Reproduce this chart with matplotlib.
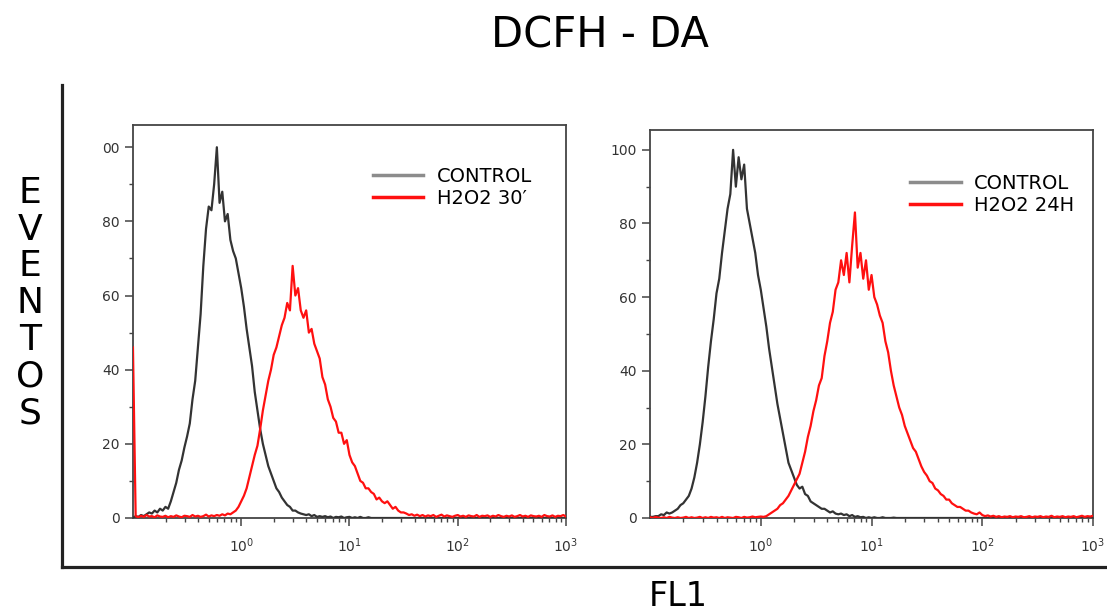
import numpy as np
import matplotlib
matplotlib.use("Agg")
import matplotlib.pyplot as plt
from matplotlib.lines import Line2D
from matplotlib.ticker import NullFormatter, MultipleLocator

# FL1 channels, log10 spaced (-1 .. 3)
log_fl1 = np.round(np.arange(-1, 3.001, 0.025), 3)
fl1 = 10 ** log_fl1

# panel 1: CONTROL vs H2O2 30'
control_30 = [
    0.0, 0.5, 0.3, 0.8, 0.5, 1.0, 1.5, 1.2, 2.0, 1.5,
    2.5, 2.0, 3.0, 2.5, 4.5, 7.0, 9.5, 13, 15.5, 19,
    22, 25.5, 32, 37, 46, 55, 68, 78, 84, 83,
    90, 100, 85, 88, 80, 82, 75, 72, 70, 66,
    62, 57, 51, 46, 41, 34, 29, 24, 20, 17,
    14, 12, 10, 8.0, 7.0, 5.5, 4.5, 3.5, 3.0, 2.0,
    2.0, 1.5, 1.2, 1.0, 0.8, 1.0, 0.5, 0.8, 0.3, 0.5,
    0.3, 0.5, 0.2, 0.4, 0.0, 0.3, 0.2, 0.4, 0.0, 0.2,
    0.3, 0.0, 0.2, 0.0, 0.3, 0.0, 0.0, 0.2, 0.0, 0.0,
    0, 0, 0, 0, 0, 0, 0, 0, 0, 0,
    0, 0, 0, 0, 0, 0, 0, 0, 0, 0,
    0, 0, 0, 0, 0, 0, 0, 0, 0, 0,
    0, 0, 0, 0, 0, 0, 0, 0, 0, 0,
    0, 0, 0, 0, 0, 0, 0, 0, 0, 0,
    0, 0, 0, 0, 0, 0, 0, 0, 0, 0,
    0, 0, 0, 0, 0, 0, 0, 0, 0, 0,
    0,
]
h2o2_30 = [
    46, 0.5, 0.2, 0.6, 0.3, 0.8, 0.4, 0.5, 0.2, 0.7,
    0.4, 0.3, 0.6, 0.2, 0.5, 0.3, 0.7, 0.4, 0.2, 0.6,
    0.5, 0.3, 0.8, 0.4, 0.6, 0.3, 0.5, 0.9, 0.4, 0.7,
    0.5, 0.8, 0.6, 1.0, 0.7, 1.2, 1.0, 1.5, 2.0, 3.0,
    4.5, 6.0, 8.0, 11, 14, 17, 19.5, 24, 29, 33,
    37, 40, 44, 46, 49, 52, 54, 58, 56, 68,
    60, 62, 56, 54, 56, 50, 51, 47, 45, 43,
    38, 36, 32, 30, 27, 26, 23, 23, 20, 21,
    17, 15, 14, 12, 10, 9.5, 8.0, 8.0, 7.0, 6.5,
    5.0, 5.5, 4.5, 4.0, 4.5, 3.5, 2.5, 3.0, 2.0, 1.5,
    1.5, 1.2, 0.8, 1.0, 0.6, 0.9, 0.5, 0.8, 0.4, 0.7,
    0.5, 0.8, 0.3, 0.6, 0.9, 0.4, 0.7, 0.5, 0.3, 0.6,
    0.8, 0.4, 0.6, 0.3, 0.7, 0.5, 0.4, 0.8, 0.3, 0.6,
    0.5, 0.7, 0.3, 0.6, 0.4, 0.8, 0.5, 0.3, 0.6, 0.4,
    0.7, 0.3, 0.5, 0.8, 0.4, 0.6, 0.3, 0.7, 0.5, 0.4,
    0.6, 0.3, 0.8, 0.5, 0.4, 0.7, 0.3, 0.6, 0.5, 0.8,
    0.4,
]

# panel 2: CONTROL vs H2O2 24H
control_24 = [
    0.3, 0.3, 0.5, 0.5, 1.0, 0.8, 1.5, 1.2, 1.5, 2.0,
    2.5, 3.5, 4.0, 5.0, 6.0, 8.0, 11, 15, 20, 26,
    33, 41, 48, 54, 61, 65, 72, 78, 84, 88,
    100, 90, 98, 92, 96, 84, 80, 76, 72, 66,
    62, 57, 52, 46, 41, 36, 31, 27, 23, 19,
    15, 13, 11, 9.0, 8.0, 8.5, 6.5, 6.0, 4.5, 4.0,
    3.5, 3.0, 2.5, 2.5, 2.0, 1.5, 1.8, 1.2, 1.0, 1.2,
    0.8, 1.0, 0.5, 0.8, 0.3, 0.5, 0.2, 0.3, 0.0, 0.2,
    0.0, 0.2, 0.0, 0.0, 0.2, 0.0, 0.0, 0.0, 0.1, 0.0,
    0, 0, 0, 0, 0, 0, 0, 0, 0, 0,
    0, 0, 0, 0, 0, 0, 0, 0, 0, 0,
    0, 0, 0, 0, 0, 0, 0, 0, 0, 0,
    0, 0, 0, 0, 0, 0, 0, 0, 0, 0,
    0, 0, 0, 0, 0, 0, 0, 0, 0, 0,
    0, 0, 0, 0, 0, 0, 0, 0, 0, 0,
    0, 0, 0, 0, 0, 0, 0, 0, 0, 0,
    0,
]
h2o2_24 = [
    0.2, 0.0, 0.3, 0.1, 0.0, 0.2, 0.0, 0.3, 0.1, 0.0,
    0.2, 0.0, 0.1, 0.3, 0.0, 0.2, 0.0, 0.1, 0.3, 0.0,
    0.2, 0.0, 0.3, 0.1, 0.2, 0.0, 0.3, 0.0, 0.2, 0.1,
    0.0, 0.3, 0.2, 0.0, 0.3, 0.1, 0.2, 0.4, 0.2, 0.3,
    0.4, 0.3, 0.5, 1.0, 1.5, 2.0, 2.5, 3.5, 4.0, 5.0,
    6.0, 7.5, 9.0, 10.5, 12, 15, 18, 22, 25, 29,
    32, 36, 38, 44, 48, 53, 56, 62, 64, 70,
    66, 72, 64, 74, 83, 68, 72, 65, 70, 62,
    66, 60, 58, 55, 53, 48, 45, 40, 36, 33,
    30, 28, 25, 23, 21, 19, 18, 16, 14, 12.5,
    11.5, 10, 9.5, 8.0, 7.5, 6.5, 6.0, 5.0, 5.0, 4.0,
    3.5, 3.0, 3.0, 2.5, 2.0, 2.0, 1.5, 1.2, 1.0, 1.5,
    0.8, 0.5, 0.7, 0.4, 0.6, 0.3, 0.5, 0.2, 0.4, 0.3,
    0.5, 0.2, 0.4, 0.3, 0.5, 0.2, 0.3, 0.5, 0.2, 0.4,
    0.3, 0.5, 0.2, 0.4, 0.3, 0.6, 0.2, 0.4, 0.3, 0.5,
    0.2, 0.4, 0.3, 0.5, 0.2, 0.4, 0.6, 0.3, 0.5, 0.4,
    0.6,
]

panels = [
    (control_30, h2o2_30, ["CONTROL", "H2O2 30\u2032"], ["0", "20", "40", "60", "80", "00"],
     [0.1201, 0.1591, 0.3912, 0.638], 106, (0.554, 0.893)),
    (control_24, h2o2_24, ["CONTROL", "H2O2 24H"], ["0", "20", "40", "60", "80", "100"],
     [0.5872, 0.1591, 0.4002, 0.6299], 105.4, (0.587, 0.887)),
]

fig = plt.figure(figsize=(11.07, 6.16), dpi=100)

# big outer L frame
frame = fig.add_axes([0.056, 0.0795, 0.944, 0.7825])
frame.patch.set_visible(False)
frame.set_xticks([])
frame.set_yticks([])
for s in ["top", "right"]:
    frame.spines[s].set_visible(False)
for s in ["left", "bottom"]:
    frame.spines[s].set_linewidth(2.3)
    frame.spines[s].set_color("#222222")

edge = "#444444"
for ctrl, h2o2, labels, ylabels, rect, ymax, leg_pos in panels:
    ax = fig.add_axes(rect)
    ax.plot(fl1, ctrl, color="#333333", lw=1.6, zorder=3)
    ax.plot(fl1, h2o2, color="#ff1010", lw=1.6, zorder=3)
    ax.set_xscale("log")
    ax.set_xlim(0.1, 1000)
    ax.set_ylim(0, ymax)
    ax.set_xticks([1, 10, 100, 1000])
    ax.xaxis.set_minor_formatter(NullFormatter())
    ax.set_yticks([0, 20, 40, 60, 80, 100])
    ax.set_yticklabels(ylabels)
    ax.yaxis.set_minor_locator(MultipleLocator(10))
    for s in ax.spines.values():
        s.set_color(edge)
        s.set_linewidth(1.3)
    ax.tick_params(which="major", length=6, width=1.1, color=edge, labelcolor="#333333",
                   labelsize=10)
    ax.tick_params(axis="x", which="major", pad=7)
    ax.tick_params(which="minor", length=3, width=1.0, color=edge)
    handles = [Line2D([], [], color="#8c8c8c", lw=2.5), Line2D([], [], color="#ff1010", lw=2.5)]
    ax.legend(handles, labels, loc="upper left", bbox_to_anchor=leg_pos, frameon=False,
              borderpad=0, borderaxespad=0, handlelength=2.6, handletextpad=0.7,
              labelspacing=0.15, fontsize=14)

fig.text(0.542, 0.943, "DCFH - DA", ha="center", va="center", fontsize=30)
fig.text(0.027, 0.508, "E\nV\nE\nN\nT\nO\nS", ha="center", va="center", fontsize=26,
         linespacing=1.1)
fig.text(0.6125, 0.031, "FL1", ha="center", va="center", fontsize=24)

plt.savefig("out.png", dpi=100)
